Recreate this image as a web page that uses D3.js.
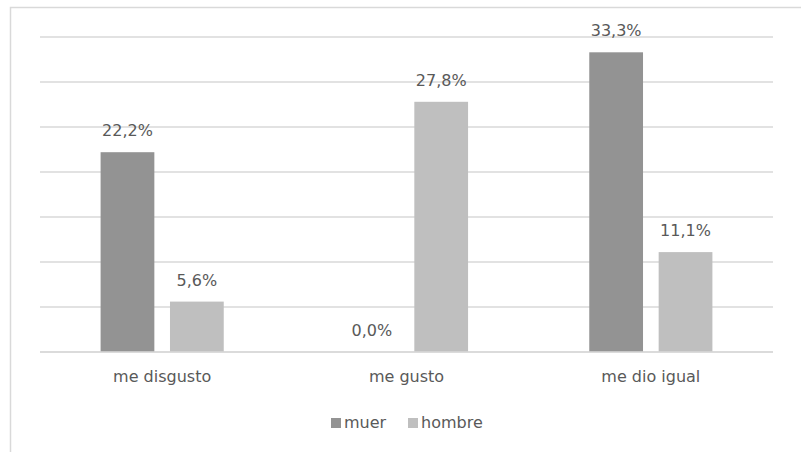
<!DOCTYPE html>
<html><head><meta charset="utf-8">
<script src="https://cdn.jsdelivr.net/npm/d3@7"></script>
<style>body{margin:0;background:#fff}svg{display:block}text{font-family:"Century Gothic","DejaVu Sans",sans-serif;fill:#595959}</style>
</head><body><svg id="c" width="801" height="452"></svg>
<script>
const categories = ["me disgusto","me gusto","me dio igual"];
const seriesNames = ["muer","hombre"];
const muer = [22.2, 0.0, 33.3];
const hombre = [5.6, 27.8, 11.1];
const yTicks = [0,5,10,15,20,25,30,35];
const colors = ["#939393","#bfbfbf"];

(function(){
const svg = d3.select("#c");
svg.append("rect").attr("x",10.5).attr("y",7.5).attr("width",820).attr("height",460)
  .attr("fill","#fff").attr("stroke","#d9d9d9").attr("stroke-width",1.5);

const pLeft=40, pRight=773, pTop=37, pBottom=352;
const x = d3.scaleBand().domain(categories).range([pLeft,pRight]).paddingInner(0).paddingOuter(0);
const y = d3.scaleLinear().domain([0,35]).range([pBottom,pTop]);

svg.append("g").selectAll("line").data(yTicks).join("line")
  .attr("x1",pLeft).attr("x2",pRight).attr("y1",d=>y(d)).attr("y2",d=>y(d))
  .attr("stroke","#d9d9d9").attr("stroke-width",1.5);

const bw = x.bandwidth()*0.22, gap = x.bandwidth()*0.064;
const inner = d3.scaleOrdinal().domain(seriesNames).range([-gap/2-bw, gap/2]);
const series = [muer, hombre];
series.forEach((vals,si)=>{
  const g = svg.append("g");
  const data = categories.map((c,i)=>({c,v:vals[i]}));
  g.selectAll("rect").data(data).join("rect")
    .attr("x",d=>x(d.c)+x.bandwidth()/2+inner(seriesNames[si]))
    .attr("width",bw)
    .attr("y",d=>y(d.v)).attr("height",d=>y(0)-y(d.v))
    .attr("fill",colors[si]);
  g.selectAll("text").data(data).join("text")
    .attr("x",d=>x(d.c)+x.bandwidth()/2+inner(seriesNames[si])+bw/2)
    .attr("y",d=>y(d.v)-16)
    .attr("text-anchor","middle").attr("font-size",16)
    .text(d=>d.v.toFixed(1).replace(".",",")+"%");
});
svg.append("line").attr("x1",pLeft).attr("x2",pRight).attr("y1",y(0)).attr("y2",y(0))
  .attr("stroke","#d9d9d9").attr("stroke-width",1.5);

svg.append("g").selectAll("text").data(categories).join("text")
  .attr("x",d=>x(d)+x.bandwidth()/2).attr("y",382)
  .attr("text-anchor","middle").attr("font-size",16).text(d=>d);

const legX=[331,408];
const lg = svg.append("g");
seriesNames.forEach((s,i)=>{
  lg.append("rect").attr("x",legX[i]).attr("y",418).attr("width",10).attr("height",10).attr("fill",colors[i]);
  lg.append("text").attr("x",legX[i]+13).attr("y",428).attr("font-size",16).text(s);
});
})();
</script></body></html>
